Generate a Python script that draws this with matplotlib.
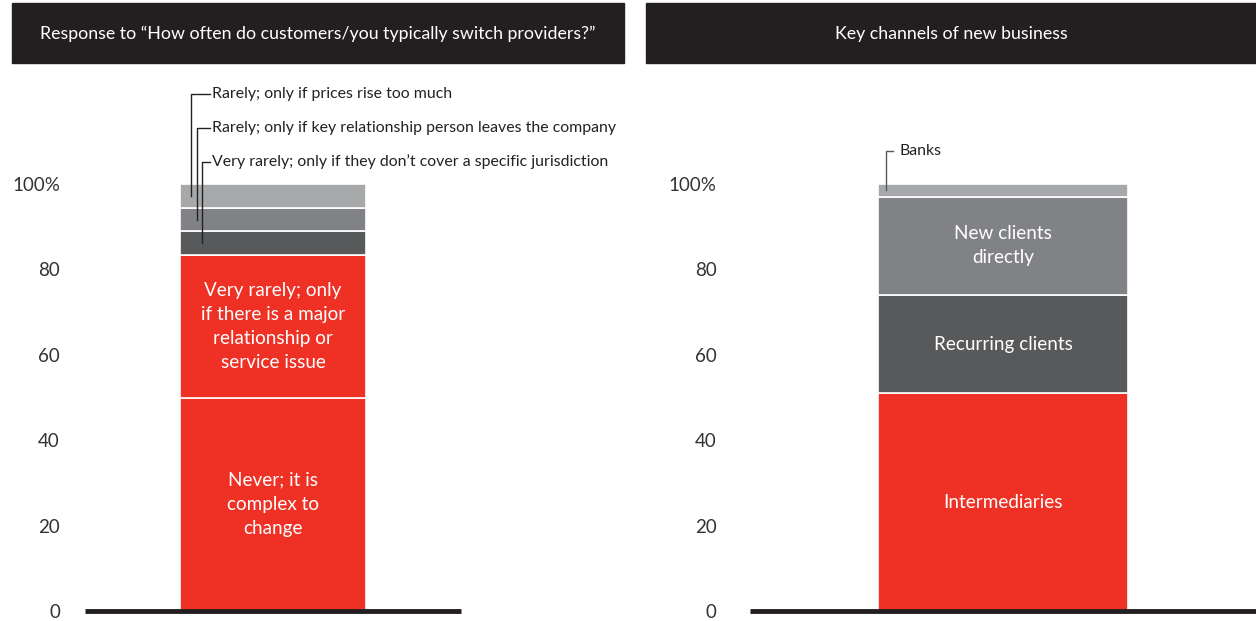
import matplotlib.pyplot as plt
from matplotlib.patches import Rectangle

plt.rcParams['font.family'] = ['Lato', 'DejaVu Sans']

# left chart: how often customers switch providers (share of respondents, %)
switch_labels = ["Never; it is\ncomplex to\nchange",
                 "Very rarely; only\nif there is a major\nrelationship or\nservice issue",
                 "Very rarely; only if they don\u2019t cover a specific jurisdiction",
                 "Rarely; only if key relationship person leaves the company",
                 "Rarely; only if prices rise too much"]
switch_values = [50.0, 33.3, 5.6, 5.5, 5.6]

# right chart: key channels of new business (%)
channel_labels = ["Intermediaries", "Recurring clients", "New clients\ndirectly", "Banks"]
channel_values = [51, 23, 23, 3]

ytick_vals = [0, 20, 40, 60, 80, 100]
ytick_labels = ["0", "20", "40", "60", "80", "100%"]

RED = '#EE3124'
DARK = '#58595B'
MID = '#818285'
LIGHT = '#A7A8AA'
INK = '#231F20'

W, H = 1256, 621
fig = plt.figure(figsize=(W / 100, H / 100), dpi=100)


def px_axes(x0, x1, ytop, ybot):
    return fig.add_axes([x0 / W, (H - ybot) / H, (x1 - x0) / W, (ybot - ytop) / H])


def header(x0, x1, text):
    fig.patches.append(Rectangle((x0 / W, (H - 63) / H), (x1 - x0) / W, 60 / H,
                                 transform=fig.transFigure, color=INK, zorder=0))
    fig.text((x0 + x1) / 2 / W, (H - 34) / H, text, color='white', fontsize=12.8,
             ha='center', va='center')


def setup(ax, pad):
    ax.set_xlim(0, 1)
    ax.set_ylim(0, 100)
    for s in ax.spines.values():
        s.set_visible(False)
    ax.set_xticks([])
    ax.set_yticks(ytick_vals)
    ax.set_yticklabels(ytick_labels)
    ax.tick_params(axis='y', length=0, pad=pad, labelsize=13.5, labelcolor='#333333')
    ax.axhline(0, color=INK, lw=3.5, zorder=5, clip_on=False, solid_capstyle='butt')


def stack(ax, values, colors, texts):
    bottom = 0
    mids = []
    for v, c, t in zip(values, colors, texts):
        ax.bar(0.5, v, width=0.495, bottom=bottom, color=c, edgecolor='white', linewidth=1.2)
        mids.append(bottom + v / 2)
        if t:
            ax.text(0.5, bottom + v / 2, t, color='white', fontsize=13.6, ha='center',
                    va='center', linespacing=1.5)
        bottom += v
    return mids


header(12, 624, "Response to \u201cHow often do customers/you typically switch providers?\u201d")
header(646, 1256, "Key channels of new business")

# left
ax1 = px_axes(85, 461, 184, 611)
setup(ax1, 18)
mids = stack(ax1, switch_values, [RED, RED, DARK, MID, LIGHT],
             [switch_labels[0], switch_labels[1], None, None, None])
# leaders for the three small segments (top segment first)
lead_x = [0.281, 0.297, 0.311]
lead_y = [121.0, 113.0, 105.2]
for i, seg in enumerate([4, 3, 2]):
    ax1.plot([lead_x[i], lead_x[i], 0.332], [mids[seg], lead_y[i], lead_y[i]],
             color='#222222', lw=1, clip_on=False)
    ax1.text(0.338, lead_y[i], switch_labels[seg], fontsize=11.4, ha='left', va='center',
             color='#222222', clip_on=False)

# right
ax2 = px_axes(750, 1256, 184, 611)
setup(ax2, 24)
mids2 = stack(ax2, channel_values, [RED, DARK, MID, LIGHT],
              [channel_labels[0], channel_labels[1], channel_labels[2], None])
ax2.plot([0.268, 0.268, 0.283], [mids2[3], 107.7, 107.7], color=DARK, lw=1, clip_on=False)
ax2.text(0.295, 107.7, channel_labels[3], fontsize=11.4, ha='left', va='center',
         color='#222222', clip_on=False)

fig.savefig('out.png', dpi=100)
